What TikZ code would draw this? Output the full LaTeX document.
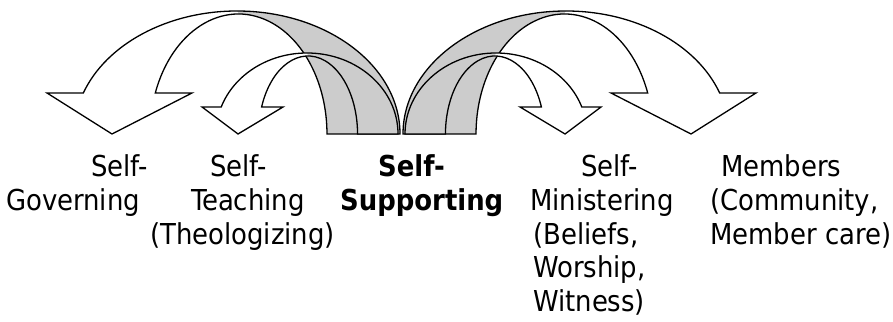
\documentclass[tikz,border=0pt]{standalone}
\usepackage{fontspec}
\setmainfont{DejaVu Sans Condensed}

% Left-hand ribbon arrows; the right-hand ones are their mirror images.
\newcommand\bigribbon{%
  \fill[back] (238.5,307) arc[start angle=90,end angle=0,x radius=88.5,y radius=120]
    -- (400,187) arc[start angle=0,end angle=90,x radius=163,y radius=123] -- cycle;
  \fill[front] (237,310) arc[start angle=90,end angle=160.53,x radius=163,y radius=123]
    -- (47,228) -- (112,187) -- (192,228) -- (155.3,228)
    arc[start angle=160.02,end angle=90,x radius=88.5,y radius=120] -- cycle;
  \draw[edge] (400,187) arc[start angle=0,end angle=160.53,x radius=163,y radius=123]
    -- (47,228) -- (112,187) -- (192,228) -- (155.3,228)
    arc[start angle=160.02,end angle=0,x radius=88.5,y radius=120] -- cycle;
}
\newcommand\smallribbon{%
  \fill[back] (308,265) arc[start angle=90,end angle=0,x radius=49.5,y radius=78]
    -- (398,187) arc[start angle=0,end angle=90,x radius=91,y radius=81] -- cycle;
  \fill[front] (307,268) arc[start angle=90,end angle=160.53,x radius=91,y radius=81]
    -- (202,214) -- (238,187) -- (283,214) -- (261.6,214)
    arc[start angle=159.75,end angle=90,x radius=49.5,y radius=78] -- cycle;
  \draw[edge] (398,187) arc[start angle=0,end angle=160.53,x radius=91,y radius=81]
    -- (202,214) -- (238,187) -- (283,214) -- (261.6,214)
    arc[start angle=159.75,end angle=0,x radius=49.5,y radius=78] -- cycle;
}

\begin{document}
\begin{tikzpicture}[x=1pt,y=1pt,
  back/.style={fill=black!20},
  front/.style={fill=white},
  edge/.style={draw=black,line width=1.3pt,line join=miter},
  lbl/.style={anchor=base west,inner sep=0pt,font=\fontsize{28.8}{34}\selectfont},
  lblb/.style={lbl,font=\fontsize{28.8}{34}\selectfont\bfseries}]
\useasboundingbox (0,0) rectangle (893,321);

% outer ribbons first, inner ones on top
\bigribbon
\begin{scope}[xshift=803pt,xscale=-1]
  \bigribbon
\end{scope}
\smallribbon
\begin{scope}[xshift=803pt,xscale=-1]
  \smallribbon
\end{scope}

% labels, one node per line
\node[lbl] (gov1) at (91,144) {Self-};
\node[lbl] (gov2) at (6,110) {Governing};
\node[lbl] (tea1) at (210,144) {Self-};
\node[lbl] (tea2) at (191,110) {Teaching};
\node[lbl] (tea3) at (150,76.5) {(Theologizing)};
\node[lblb] (sup1) at (378,144) {Self-};
\node[lblb] (sup2) at (340,110) {Supporting};
\node[lbl] (min1) at (581,144) {Self-};
\node[lbl] (min2) at (530,110) {Ministering};
\node[lbl] (min3) at (533,76.5) {(Beliefs,};
\node[lbl] (min4) at (533,43) {Worship,};
\node[lbl] (min5) at (533,9.5) {Witness)};
\node[lbl] (mem1) at (721,144) {Members};
\node[lbl] (mem2) at (710,110) {(Community,};
\node[lbl] (mem3) at (710,76.5) {Member care)};
\end{tikzpicture}
\end{document}
